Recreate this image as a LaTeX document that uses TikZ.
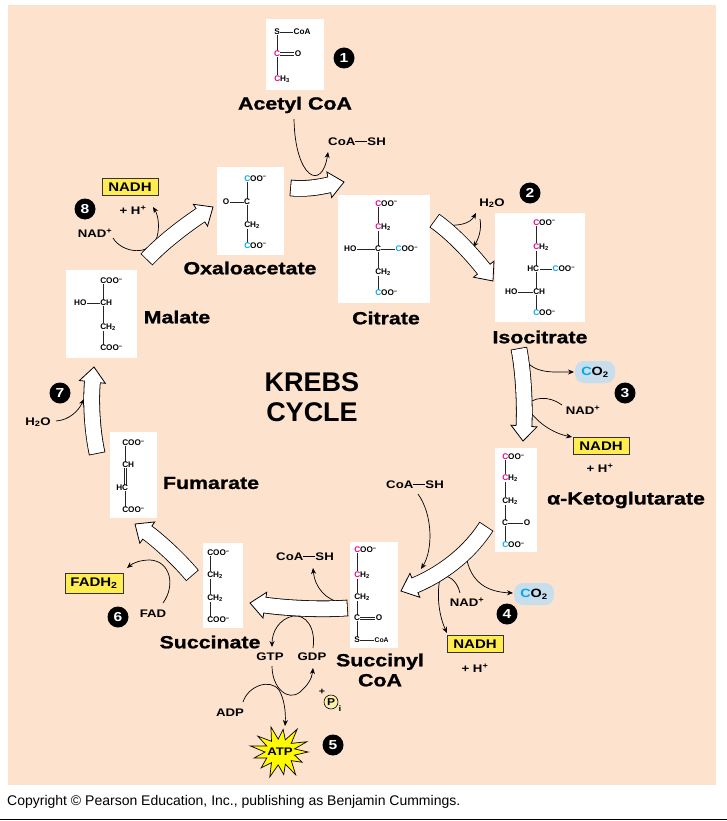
\documentclass[tikz,border=0pt]{standalone}
\usepackage{fontspec}
\setmainfont{Liberation Sans}
\newfontfamily\labf[FakeStretch=1.2]{Liberation Sans}
\newfontfamily\labh[FakeStretch=1.22,FakeBold=1.2]{Liberation Sans}
\usetikzlibrary{arrows.meta,decorations.markings}

\definecolor{peach}{RGB}{253,226,206}
\definecolor{mag}{RGB}{236,0,140}
\definecolor{cyn}{RGB}{0,170,235}
\definecolor{nadhy}{RGB}{255,236,80}
\definecolor{co2b}{RGB}{200,222,236}
\definecolor{atpy}{RGB}{255,250,0}
\definecolor{piy}{RGB}{250,240,170}

\newcommand\Cm{\textcolor{mag}{C}}
\newcommand\Cb{\textcolor{cyn}{C}}
\newcommand\Mi{\textsuperscript{−}}
\newcommand\Two{\textsubscript{2}}
\newcommand\Dash{\rule[0.33em]{1.1em}{0.07em}}

\tikzset{
  molbox/.style={fill=white, draw=none, inner sep=0},
  ch/.style={font=\bfseries\fontsize{8.2}{8.5}\selectfont, fill=white, inner sep=0.4pt},
  cw/.style={ch, anchor=west, xshift=-3.3pt},
  bond/.style={line width=0.6pt, black!85},
  big/.style={font=\labh\bfseries\fontsize{17.5}{20}\selectfont, inner sep=0},
  lbl/.style={font=\labf\bfseries\fontsize{11}{12}\selectfont, inner sep=1pt},
  numc/.style={circle, fill=black, text=white, inner sep=0, minimum size=21pt,
    font=\labf\bfseries\fontsize{13}{13}\selectfont},
  nadh/.style={fill=nadhy, draw=black!80, line width=0.8pt, inner sep=0,
    minimum width=56pt, minimum height=17pt, font=\labf\bfseries\fontsize{12.5}{13}\selectfont},
  co2/.style={fill=co2b, rounded corners=9pt, inner sep=0, minimum width=40pt,
    minimum height=22pt, font=\labf\bfseries\fontsize{12}{13}\selectfont},
  thinarr/.style={line width=0.7pt, -{Stealth[length=6pt,width=5pt]}},
}

\newcommand\blockarrow[1]{%
  \draw[line width=16.6pt, shorten >=14pt, shorten <=-0.8pt] #1;
  \path[decorate, decoration={markings, mark=at position 1 with {%
    \filldraw[fill=white, draw=black, line width=0.8pt, line join=miter]
      (0pt,0pt) -- (-15pt,13pt) -- (-15pt,-13pt) -- cycle;}}] #1;
  \draw[line width=15pt, white, shorten >=13.4pt] #1;
}

\begin{document}
\begin{tikzpicture}[x=1pt,y=-1pt]
\useasboundingbox (0,0) rectangle (727,821);
\fill[white] (0,0) rectangle (727,821);
\fill[peach] (8,5) rectangle (716,785);
\draw[line width=1.5pt] (0,819.5) -- (727,819.5);
\node[anchor=west, inner sep=0, font=\fontsize{14}{16}\selectfont] (copy) at (7,802)
  {Copyright © Pearson Education, Inc., publishing as Benjamin Cummings.};

% ---------- molecules ----------
% Acetyl CoA
\node[molbox, minimum width=58, minimum height=71] (acbox) at (295,54.5) {};
\draw[bond] (277,32) -- (277,79);
\draw[bond] (277,32) -- (296,32);
\draw[bond] (277,52.8) -- (298,52.8) (277,55.4) -- (298,55.4);
\node[ch] (acS) at (277,32) {S};
\node[ch, anchor=west] (acCoA) at (293,32) {CoA};
\node[ch] (acC) at (277,54) {\Cm};
\node[ch] (acO) at (298,54) {O};
\node[cw] (acCH) at (277,79) {\Cm H\textsubscript{3}};

% Oxaloacetate
\node[molbox, minimum width=67, minimum height=88] (oxbox) at (250.5,211) {};
\draw[bond] (247,179) -- (247,246);
\draw[bond] (226,202) -- (247,202);
\node[cw] (ox1) at (247,179) {\Cb OO\Mi};
\node[ch] (ox2) at (247,202) {C};
\node[ch] (ox2a) at (226,202) {O};
\node[cw] (ox3) at (247,225) {CH\Two};
\node[cw] (ox4) at (247,246) {\Cb OO\Mi};

% Citrate
\node[molbox, minimum width=92, minimum height=108] (citbox) at (384,249) {};
\draw[bond] (378,204) -- (378,293);
\draw[bond] (354,249) -- (398,249);
\node[cw] (cit1) at (378,204) {\Cm OO\Mi};
\node[cw] (cit2) at (378,227) {\Cm H\Two};
\node[ch] (cit3) at (378,249) {C};
\node[ch, anchor=east] (cit3a) at (357,249) {HO};
\node[ch, anchor=west] (cit3b) at (395,249) {\Cb OO\Mi};
\node[cw] (cit4) at (378,272) {CH\Two};
\node[cw] (cit5) at (378,293) {\Cb OO\Mi};

% Isocitrate
\node[molbox, minimum width=90, minimum height=109] (isobox) at (540,267.5) {};
\draw[bond] (536,223) -- (536,313);
\draw[bond] (536,269) -- (554,269);
\draw[bond] (516,292) -- (536,292);
\node[cw] (iso1) at (536,223) {\Cm OO\Mi};
\node[cw] (iso2) at (536,247) {\Cm H\Two};
\node[ch, anchor=east] (iso3) at (539.7,269) {HC};
\node[ch, anchor=west] (iso3b) at (552,269) {\Cb OO\Mi};
\node[ch, anchor=east] (iso4a) at (518,292) {HO};
\node[cw] (iso4) at (536,292) {CH};
\node[cw] (iso5) at (536,313) {\Cb OO\Mi};

% alpha-Ketoglutarate
\node[molbox, minimum width=42, minimum height=104] (akgbox) at (516,500) {};
\draw[bond] (505,457) -- (505,545);
\draw[bond] (505,523) -- (527,523);
\node[cw] (akg1) at (505,457) {\Cm OO\Mi};
\node[cw] (akg2) at (505,478) {\Cm H\Two};
\node[cw] (akg3) at (505,501) {CH\Two};
\node[ch] (akg4) at (505,523) {C};
\node[ch] (akg4b) at (527,523) {O};
\node[cw] (akg5) at (505,545) {\Cb OO\Mi};

% Succinyl CoA
\node[molbox, minimum width=48, minimum height=106] (scbox) at (374,595) {};
\draw[bond] (357,550) -- (357,640);
\draw[bond] (357,616.8) -- (378,616.8) (357,619.4) -- (378,619.4);
\draw[bond] (357,640) -- (375,640);
\node[cw] (sc1) at (357,550) {\Cm OO\Mi};
\node[cw] (sc2) at (357,575) {\Cm H\Two};
\node[cw] (sc3) at (357,597) {CH\Two};
\node[ch] (sc4) at (357,618) {C};
\node[ch] (sc4b) at (379,618) {O};
\node[ch] (sc5) at (357,640) {S};
\node[ch, anchor=west, font=\bfseries\fontsize{6.8}{7}\selectfont] (sc5b) at (374,640) {CoA};

% Succinate
\node[molbox, minimum width=40, minimum height=85] (sucbox) at (223,585.5) {};
\draw[bond] (210,553) -- (210,620);
\node[cw] (suc1) at (210,553) {COO\Mi};
\node[cw] (suc2) at (210,575) {CH\Two};
\node[cw] (suc3) at (210,598) {CH\Two};
\node[cw] (suc4) at (210,620) {COO\Mi};

% Fumarate
\node[molbox, minimum width=47, minimum height=86] (fumbox) at (133.5,475) {};
\draw[bond] (125,443) -- (125,465);
\draw[bond] (123.8,465) -- (123.8,488) (126.4,465) -- (126.4,488);
\draw[bond] (125,488) -- (125,510);
\node[cw] (fum1) at (125,443) {COO\Mi};
\node[cw] (fum2) at (125,465) {CH};
\node[ch, anchor=east] (fum3) at (128.7,488) {HC};
\node[cw] (fum4) at (125,510) {COO\Mi};

% Malate
\node[molbox, minimum width=71, minimum height=88] (malbox) at (101.5,314) {};
\draw[bond] (103,281) -- (103,348);
\draw[bond] (84,303) -- (103,303);
\node[cw] (mal1) at (103,281) {COO\Mi};
\node[ch, anchor=east] (mal2a) at (87,303) {HO};
\node[cw] (mal2) at (103,303) {CH};
\node[cw] (mal3) at (103,327) {CH\Two};
\node[cw] (mal4) at (103,348) {COO\Mi};

% ---------- labels ----------
\node[big] (acl) at (295,105) {Acetyl CoA};
\node[big] (oxl) at (250,268) {Oxaloacetate};
\node[big] (citl) at (386,318) {Citrate};
\node[big] (isol) at (540,337) {Isocitrate};
\node[big] (akgl) at (626,500) {α-Ketoglutarate};
\node[big, align=center] (scl) at (380,670) {Succinyl\\CoA};
\node[big] (sucl) at (210,642) {Succinate};
\node[big] (fuml) at (211,483) {Fumarate};
\node[big] (mall) at (177,317) {Malate};

\node[font=\bfseries\fontsize{27}{30}\selectfont, align=center, inner sep=0] (krebs) at (312,397) {KREBS\\CYCLE};

\node[lbl] (coash1) at (357,142) {CoA\Dash SH};
\node[lbl] (h2o2) at (492,203) {H\Two O};
\node[lbl] (nad3) at (583,410) {NAD\textsuperscript{+}};
\node[lbl] (h3) at (600,468) {+ H\textsuperscript{+}};
\node[lbl] (coash4) at (415,485) {CoA\Dash SH};
\node[lbl] (nad4) at (467,602) {NAD\textsuperscript{+}};
\node[lbl] (h4) at (475,668) {+ H\textsuperscript{+}};
\node[lbl] (coash5) at (305,557) {CoA\Dash SH};
\node[lbl] (gtp) at (270,657) {GTP};
\node[lbl] (gdp) at (312,657) {GDP};
\node[lbl] (adp) at (230,713) {ADP};
\node[lbl] (fad) at (153,614) {FAD};
\node[lbl] (h2o7) at (38,422) {H\Two O};
\node[lbl] (nad8) at (95,233) {NAD\textsuperscript{+}};
\node[lbl] (h8) at (133,210) {+ H\textsuperscript{+}};

\node[nadh] (nadh8) at (130,187) {NADH};
\node[nadh] (nadh3) at (601,446) {NADH};
\node[nadh] (nadh4) at (475,644) {NADH};
\node[nadh, minimum width=58, minimum height=20] (fadh) at (94,583) {FADH\Two};
\node[co2] (co23) at (595,372) {\Cb O\Two};
\node[co2] (co24) at (534,594) {\Cb O\Two};

% ATP starburst
\filldraw[fill=atpy, draw=black, line width=0.7pt, line join=miter]
  plot[samples at={0,...,25}] ({280+(mod(\x,2)==0 ? 28+3*sin(\x*137) : 15)*cos(\x*360/26)},
                                {752+(mod(\x,2)==0 ? 25+3*cos(\x*97) : 13)*sin(\x*360/26)}) -- cycle;
\node[inner sep=0, font=\labf\bfseries\fontsize{11}{12}\selectfont] (atp) at (280,752) {ATP};
\node[circle, draw=black, fill=piy, line width=0.6pt, minimum size=14pt, inner sep=0,
  font=\labf\bfseries\fontsize{10}{11}\selectfont] (pi) at (331,702) {P};
\node[inner sep=0, font=\labf\bfseries\fontsize{8}{9}\selectfont] (pii) at (340,709) {i};
\node[inner sep=0, font=\labf\bfseries\fontsize{9}{9}\selectfont] (plus) at (322,692) {+};

\node[numc] (n1) at (344,58) {1};
\node[numc] (n2) at (530,193) {2};
\node[numc] (n3) at (625,393) {3};
\node[numc] (n4) at (507,614) {4};
\node[numc] (n5) at (333,745) {5};
\node[numc] (n6) at (118,617) {6};
\node[numc] (n7) at (60,393) {7};
\node[numc] (n8) at (85,209) {8};

% ---------- thin connectors ----------
\coordinate (a1s) at (294,119); \coordinate (a1e) at (328,152);
\draw[thinarr] (a1s) .. controls (295,178) and (322,192) .. (a1e);
\coordinate (a2s) at (446,225); \coordinate (a2e) at (476,213);
\draw[thinarr] (a2s) .. controls (458,226) and (470,224) .. (a2e);
\coordinate (a3s) at (480,219); \coordinate (a3e) at (473,247);
\draw[thinarr] (a3s) .. controls (482,230) and (478,240) .. (a3e);
\coordinate (a4s) at (524,358); \coordinate (a4e) at (574,372);
\draw[thinarr] (a4s) .. controls (534,374) and (552,372) .. (a4e);
\coordinate (a5s) at (562,405); \coordinate (a5m) at (526,406); \coordinate (a5e) at (572,437);
\draw[thinarr] (a5s) .. controls (548,395) and (533,397) .. (a5m) .. controls (536,422) and (552,433) .. (a5e);
\coordinate (a6s) at (418,494); \coordinate (a6e) at (421,569);
\draw[thinarr] (a6s) .. controls (433,515) and (433,550) .. (a6e);
\coordinate (a7s) at (466,555); \coordinate (a7e) at (513,593);
\draw[thinarr] (a7s) .. controls (470,583) and (488,592) .. (a7e);
\coordinate (a8s) at (460,593); \coordinate (a8m) at (440,578); \coordinate (a8e) at (447,633);
\draw[thinarr] (a8s) .. controls (457,580) and (447,573) .. (a8m) .. controls (436,598) and (440,618) .. (a8e);
\coordinate (a9s) at (342,603); \coordinate (a9e) at (313,568);
\draw[thinarr] (a9s) .. controls (326,600) and (315,588) .. (a9e);
\coordinate (a10s) at (313,648); \coordinate (a10m) at (293,616); \coordinate (a10e) at (272,647);
\draw[thinarr] (a10s) .. controls (316,628) and (306,614) .. (a10m) .. controls (279,619) and (272,632) .. (a10e);
\coordinate (a11s) at (272,666); \coordinate (a11m) at (300,692); \coordinate (a11e) at (313,668);
\draw[thinarr] (a11s) .. controls (272,688) and (288,702) .. (a11m) .. controls (307,686) and (312,679) .. (a11e);
\coordinate (a12s) at (243,702); \coordinate (a12m) at (279,690); \coordinate (a12e) at (285,726);
\draw[thinarr] (a12s) .. controls (248,686) and (270,678) .. (a12m) .. controls (284,698) and (286,712) .. (a12e);
\coordinate (a13s) at (163,603); \coordinate (a13m) at (150,560); \coordinate (a13e) at (127,568);
\draw[thinarr] (a13s) .. controls (176,585) and (170,561) .. (a13m) .. controls (140,560) and (133,563) .. (a13e);
\coordinate (a14s) at (56,421); \coordinate (a14e) at (84,399);
\draw[thinarr] (a14s) .. controls (70,420) and (79,410) .. (a14e);
\coordinate (a15s) at (113,238); \coordinate (a15m) at (157,237); \coordinate (a15e) at (153,207);
\draw[thinarr] (a15s) .. controls (122,253) and (150,257) .. (a15m) .. controls (160,226) and (158,215) .. (a15e);

% ---------- block arrows ----------
\blockarrow{(291,188) .. controls (310,190) and (328,185) .. (344,182)}
\blockarrow{(435,221) .. controls (455,235) and (475,258) .. (493,281)}
\blockarrow{(519,349) .. controls (524,375) and (525,410) .. (523,441)}
\blockarrow{(486,527) .. controls (468,555) and (440,575) .. (401,591)}
\blockarrow{(347,608) .. controls (320,610) and (285,608) .. (250,603)}
\blockarrow{(192,575) .. controls (175,555) and (155,538) .. (135,524)}
\blockarrow{(97,453) .. controls (91,425) and (91,395) .. (94,367)}
\blockarrow{(147,259) .. controls (165,240) and (190,222) .. (213,207)}
\end{tikzpicture}
\end{document}
